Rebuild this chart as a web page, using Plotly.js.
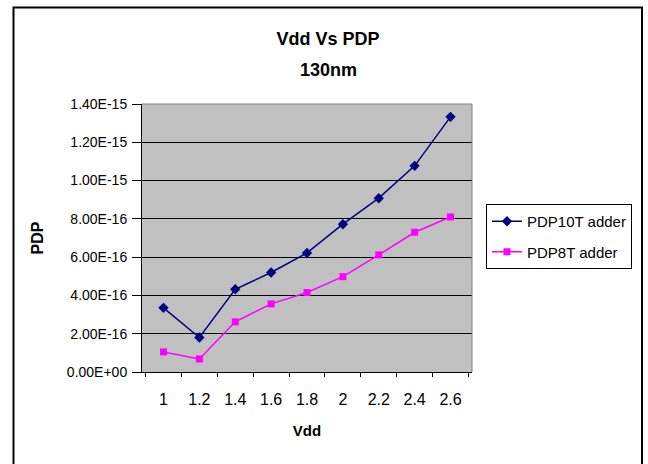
<!DOCTYPE html>
<html>
<head>
<meta charset="utf-8">
<script src="https://cdn.plot.ly/plotly-3.0.1.min.js"></script>
<style>html,body{margin:0;padding:0;background:#fff;}#chart{width:648px;height:464px;}</style>
</head>
<body>
<div id="chart"></div>
<script>
const vdd = ["1","1.2","1.4","1.6","1.8","2","2.2","2.4","2.6"];
const pdp10T = [3.35e-16,1.8e-16,4.32e-16,5.2e-16,6.22e-16,7.72e-16,9.08e-16,1.077e-15,1.333e-15];
const pdp8T = [1.05e-16,0.68e-16,2.62e-16,3.56e-16,4.15e-16,4.98e-16,6.12e-16,7.3e-16,8.1e-16];
const yTickVals = [0,2e-16,4e-16,6e-16,8e-16,1e-15,1.2e-15,1.4e-15];
const yTickText = ["0.00E+00","2.00E-16","4.00E-16","6.00E-16","8.00E-16","1.00E-15","1.20E-15","1.40E-15"];
const titleLine1 = "Vdd Vs PDP";
const titleLine2 = "130nm";

const font = "Liberation Sans, Arial, sans-serif";
const traces = [
  {x: vdd, y: pdp10T, name: "PDP10T adder", legendgroup: "a", type: "scatter", mode: "lines+markers",
   line: {color: "#000080", width: 1.5}, marker: {symbol: "diamond", size: 8, color: "#000080"}},
  {x: vdd, y: pdp8T, name: "PDP8T adder", legendgroup: "b", type: "scatter", mode: "lines+markers",
   line: {color: "#FF00FF", width: 1.5}, marker: {symbol: "square", size: 7, color: "#FF00FF"}}
];
const layout = {
  width: 648, height: 464,
  margin: {l: 142, r: 176, t: 104, b: 92},
  paper_bgcolor: "#ffffff", plot_bgcolor: "#c0c0c0",
  font: {family: font, size: 12, color: "#000"},
  title: {text: "<b>" + titleLine1 + "</b>", x: 328/648, xref: "container", xanchor: "center",
          y: 1 - 39/464, yref: "container", yanchor: "middle", font: {family: font, size: 18, color: "#000"}},
  annotations: [
    {text: "<b>" + titleLine2 + "</b>", xref: "paper", yref: "paper", x: (328-142)/330, y: (372-70)/268,
     xanchor: "center", yanchor: "middle", showarrow: false, font: {family: font, size: 18, color: "#000"}}
  ],
  xaxis: {type: "category", tickson: "boundaries", ticks: "outside", ticklen: 4, tickcolor: "#000",
          showline: true, linecolor: "#000", linewidth: 1, showgrid: false, zeroline: false,
          tickfont: {family: font, size: 16}, ticklabelstandoff: 13,
          title: {text: "<b>Vdd</b>", font: {family: font, size: 15}, standoff: 18}},
  yaxis: {range: [0, 1.4e-15], tickvals: yTickVals, ticktext: yTickText, ticks: "outside", ticklen: 9,
          tickcolor: "#000", showline: true, linecolor: "#000", linewidth: 1,
          showgrid: true, gridcolor: "#000", gridwidth: 1, zeroline: false,
          tickfont: {family: font, size: 14}, ticklabelstandoff: 2,
          title: {text: "<b>PDP</b>", font: {family: font, size: 16}, standoff: 19}},
  legend: {x: (486-142)/330, xanchor: "left", y: (372-236.5)/268, yanchor: "middle", bgcolor: "#fff",
           bordercolor: "#000", borderwidth: 1, font: {family: font, size: 15},
           traceorder: "grouped", tracegroupgap: 8},
  shapes: [
    {type: "line", xref: "paper", yref: "paper", x0: 0, x1: 1, y0: 1, y1: 1, line: {color: "#808080", width: 1}},
    {type: "line", xref: "paper", yref: "paper", x0: 1, x1: 1, y0: 0, y1: 1, line: {color: "#808080", width: 1}},
    {type: "rect", xref: "paper", yref: "paper",
     x0: (13.5-142)/330, x1: (642-142)/330, y0: (372-470)/268, y1: (372-7.5)/268,
     line: {color: "#000", width: 2}, fillcolor: "rgba(0,0,0,0)", layer: "below"}
  ]
};
Plotly.newPlot("chart", traces, layout, {displayModeBar: false, staticPlot: true});
</script>
</body>
</html>
